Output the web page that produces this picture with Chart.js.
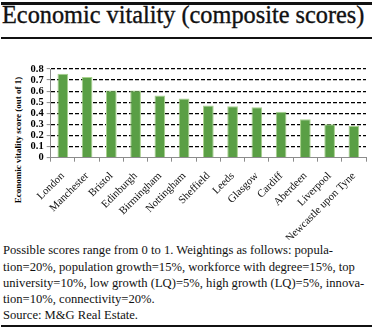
<!DOCTYPE html>
<html><head><meta charset="utf-8">
<script src="https://cdn.jsdelivr.net/npm/chart.js@4"></script>
<style>
html,body{margin:0;padding:0;background:#fff;}
#wrap{position:relative;width:374px;height:329px;overflow:hidden;background:#fff;}
.rule{position:absolute;left:1px;width:371px;background:#111;}
#title{position:absolute;left:2px;top:1px;font-family:"Liberation Serif",serif;font-size:24.3px;color:#111;white-space:nowrap;-webkit-text-stroke:0.35px #111;}
#ytitle{position:absolute;left:17.5px;top:140px;transform:translate(-50%,-50%) rotate(-90deg);font-family:"Liberation Serif",serif;font-weight:bold;font-size:9px;color:#000;white-space:nowrap;}
#cv{position:absolute;left:0;top:40px;}
#note{position:absolute;left:3px;top:242.3px;font-family:"Liberation Serif",serif;font-size:12.6px;line-height:16.2px;color:#111;white-space:nowrap;}
</style></head>
<body><div id="wrap">
<div class="rule" style="top:2px;height:3px"></div>
<div id="title">Economic vitality (composite scores)</div>
<div class="rule" style="top:37px;height:1.5px"></div>
<div id="ytitle">Economic vitality score (out of 1)</div>
<canvas id="cv" width="374" height="200" style="width:374px;height:200px"></canvas>
<div id="note">Possible scores range from 0 to 1. Weightings as follows: popula-<br>tion=20%, population growth=15%, workforce with degree=15%, top<br>university=10%, low growth (LQ)=5%, high growth (LQ)=5%, innova-<br>tion=10%, connectivity=20%.<br>Source: M&amp;G Real Estate.</div>
<div class="rule" style="top:325px;height:2px"></div>
</div>
<script>
const categories = ["London","Manchester","Bristol","Edinburgh","Birmingham","Nottingham","Sheffield","Leeds","Glasgow","Cardiff","Aberdeen","Liverpool","Newcastle upon Tyne"];
const scores = [0.757,0.727,0.606,0.605,0.561,0.533,0.470,0.465,0.456,0.414,0.347,0.302,0.287];
const yTicks = [0,0.1,0.2,0.3,0.4,0.5,0.6,0.7,0.8];

new Chart(document.getElementById('cv'), {
  type: 'bar',
  data: { labels: categories, datasets: [{ data: scores, backgroundColor: '#5a9f45', borderColor: '#a9d18e', borderWidth: 1, barPercentage: 0.44, categoryPercentage: 1 }] },
  options: {
    responsive: false, animation: false,
    layout: { padding: { top: 29, right: 8, left: 0, bottom: 0 } },
    plugins: { legend: { display: false }, tooltip: { enabled: false } },
    scales: {
      x: {
        grid: { drawOnChartArea: false, drawTicks: true, tickLength: 4, color: '#8c8c8c', offset: true },
        border: { color: '#8c8c8c', width: 1 },
        ticks: { minRotation: 45, maxRotation: 45, autoSkip: false, padding: 8, color: '#111', font: { family: 'Liberation Serif', size: 10.8 } },
        afterFit: s => { s.height = 200 - 117.7; }
      },
      y: {
        min: 0, max: 0.8,
        afterBuildTicks: s => { s.ticks = yTicks.map(v => ({ value: v })); },
        grid: { color: c => c.tick && c.tick.value === 0 ? 'rgba(0,0,0,0)' : '#000', lineWidth: 1.2, tickColor: '#8c8c8c', tickWidth: 1, tickLength: 4, tickBorderDash: [], borderDash: [4, 2] },
        border: { color: '#8c8c8c', width: 1, dash: [4, 2] },
        ticks: { autoSkip: false, padding: 3, color: '#000', font: { family: 'Liberation Serif', size: 10.5, weight: 'bold' }, callback: v => String(Math.round(v * 10) / 10) },
        afterFit: s => { s.width = 50.7; }
      }
    }
  }
});
</script>
</body></html>
